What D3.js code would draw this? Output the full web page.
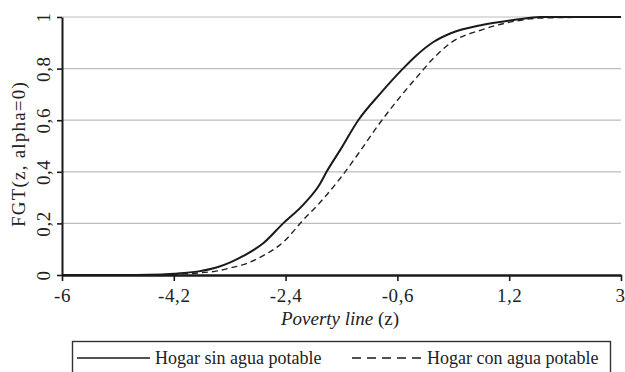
<!DOCTYPE html>
<html>
<head>
<meta charset="utf-8">
<script src="https://cdn.jsdelivr.net/npm/d3@7/dist/d3.min.js"></script>
<style>
  html, body { margin: 0; padding: 0; background: #fff; }
  svg text { font-family: "Liberation Serif", "Times New Roman", serif !important; }
</style>
</head>
<body>
<svg id="chart" width="625" height="372"></svg>
<script>
// Poverty line values (z) at which the headcount curves are sampled
const povertyLine = [-6, -5.0, -4.6, -4.2, -3.8, -3.5, -3.3, -3.08, -2.76, -2.44, -2.11, -1.85, -1.74, -1.52, -1.23, -0.88, -0.53, -0.29, -0.02, 0.25, 0.78, 1.32, 1.7, 3];
// FGT(z, alpha=0) for households without drinking water
const sinAgua = [0, 0, 0.001, 0.005, 0.014, 0.03, 0.048, 0.074, 0.123, 0.20, 0.274, 0.352, 0.40, 0.485, 0.60, 0.702, 0.795, 0.852, 0.903, 0.936, 0.97, 0.99, 1, 1];
// FGT(z, alpha=0) for households with drinking water
const conAgua = [0, 0, 0.0005, 0.003, 0.008, 0.016, 0.027, 0.040, 0.075, 0.127, 0.215, 0.28, 0.31, 0.375, 0.47, 0.59, 0.698, 0.766, 0.84, 0.898, 0.952, 0.985, 0.996, 1];
const xTicks = [-6, -4.2, -2.4, -0.6, 1.2, 3];
const yTicks = [0, 0.2, 0.4, 0.6, 0.8, 1];
const seriesNames = ["Hogar sin agua potable", "Hogar con agua potable"];

const svg = d3.select("#chart");
const x = d3.scaleLinear().domain([-6, 3]).range([62, 621]);
const y = d3.scaleLinear().domain([0, 1]).range([275, 17]);
// decimal comma and a plain hyphen for negatives
const fmt = v => String(+(+v).toFixed(1)).replace(".", ",");

// horizontal gridlines
svg.append("g").selectAll("line")
  .data(yTicks.filter(d => d > 0))
  .join("line")
  .attr("x1", x(-6)).attr("x2", x(3))
  .attr("y1", d => y(d)).attr("y2", d => y(d))
  .attr("stroke", "#bdbdbd").attr("stroke-width", 1.2);

// curves
const line = d3.line().curve(d3.curveMonotoneX);
const ptsA = povertyLine.map((z, i) => [x(z), y(sinAgua[i])]);
const ptsB = povertyLine.map((z, i) => [x(z), y(conAgua[i])]);
svg.append("path").attr("d", line(ptsB))
  .attr("fill", "none").attr("stroke", "#222").attr("stroke-width", 1.4)
  .attr("stroke-dasharray", "6,4");
svg.append("path").attr("d", line(ptsA))
  .attr("fill", "none").attr("stroke", "#1a1a1a").attr("stroke-width", 2);

// x axis
const xAxis = svg.append("g").attr("transform", `translate(0,${y(0)})`)
  .call(d3.axisBottom(x).tickValues(xTicks).tickSize(6).tickSizeOuter(0).tickFormat(fmt));
xAxis.select(".domain").attr("stroke", "#1a1a1a").attr("stroke-width", 2.6);
xAxis.selectAll(".tick line").attr("stroke", "#1a1a1a").attr("stroke-width", 1.6);
xAxis.selectAll(".tick text").attr("font-size", 19).attr("fill", "#222").attr("dy", "0.95em")
  .attr("letter-spacing", 0.6);
// keep the last label inside the page edge
xAxis.selectAll(".tick text").filter(d => d === 3)
  .attr("text-anchor", "end").attr("x", 4);

// y axis
const yAxis = svg.append("g").attr("transform", `translate(${x(-6)},0)`)
  .call(d3.axisLeft(y).tickValues(yTicks).tickSize(5).tickSizeOuter(0).tickFormat(fmt));
yAxis.select(".domain").attr("stroke", "#1a1a1a").attr("stroke-width", 2);
yAxis.selectAll(".tick line").attr("stroke", "#1a1a1a").attr("stroke-width", 1.6);
yAxis.selectAll(".tick text").remove();
yAxis.selectAll(".tick").append("text")
  .attr("transform", "translate(-12,0) rotate(-90)")
  .attr("text-anchor", "middle")
  .attr("font-size", 19).attr("fill", "#222").attr("letter-spacing", 0.6)
  .text(fmt);

// axis titles
svg.append("text")
  .attr("transform", "translate(25,154) rotate(-90)")
  .attr("text-anchor", "middle").attr("font-size", 19).attr("fill", "#222")
  .attr("letter-spacing", 1.2)
  .text("FGT(z, alpha=0)");
const xt = svg.append("text")
  .attr("x", 340).attr("y", 325).attr("text-anchor", "middle")
  .attr("font-size", 19).attr("fill", "#222");
xt.append("tspan").attr("font-style", "italic").text("Poverty line");
xt.append("tspan").text(" (z)");

// legend
const lg = svg.append("g");
lg.append("rect").attr("x", 72.5).attr("y", 341.5).attr("width", 538).attr("height", 40)
  .attr("fill", "none").attr("stroke", "#333").attr("stroke-width", 1.4);
lg.append("line").attr("x1", 77).attr("x2", 150).attr("y1", 358).attr("y2", 358)
  .attr("stroke", "#1a1a1a").attr("stroke-width", 1.6);
lg.append("text").attr("x", 155).attr("y", 364).attr("font-size", 18).attr("fill", "#222")
  .text(seriesNames[0]);
lg.append("line").attr("x1", 352).attr("x2", 421).attr("y1", 358).attr("y2", 358)
  .attr("stroke", "#1a1a1a").attr("stroke-width", 1.3).attr("stroke-dasharray", "9,6");
lg.append("text").attr("x", 427).attr("y", 364).attr("font-size", 18).attr("fill", "#222")
  .text(seriesNames[1]);
</script>
</body>
</html>
